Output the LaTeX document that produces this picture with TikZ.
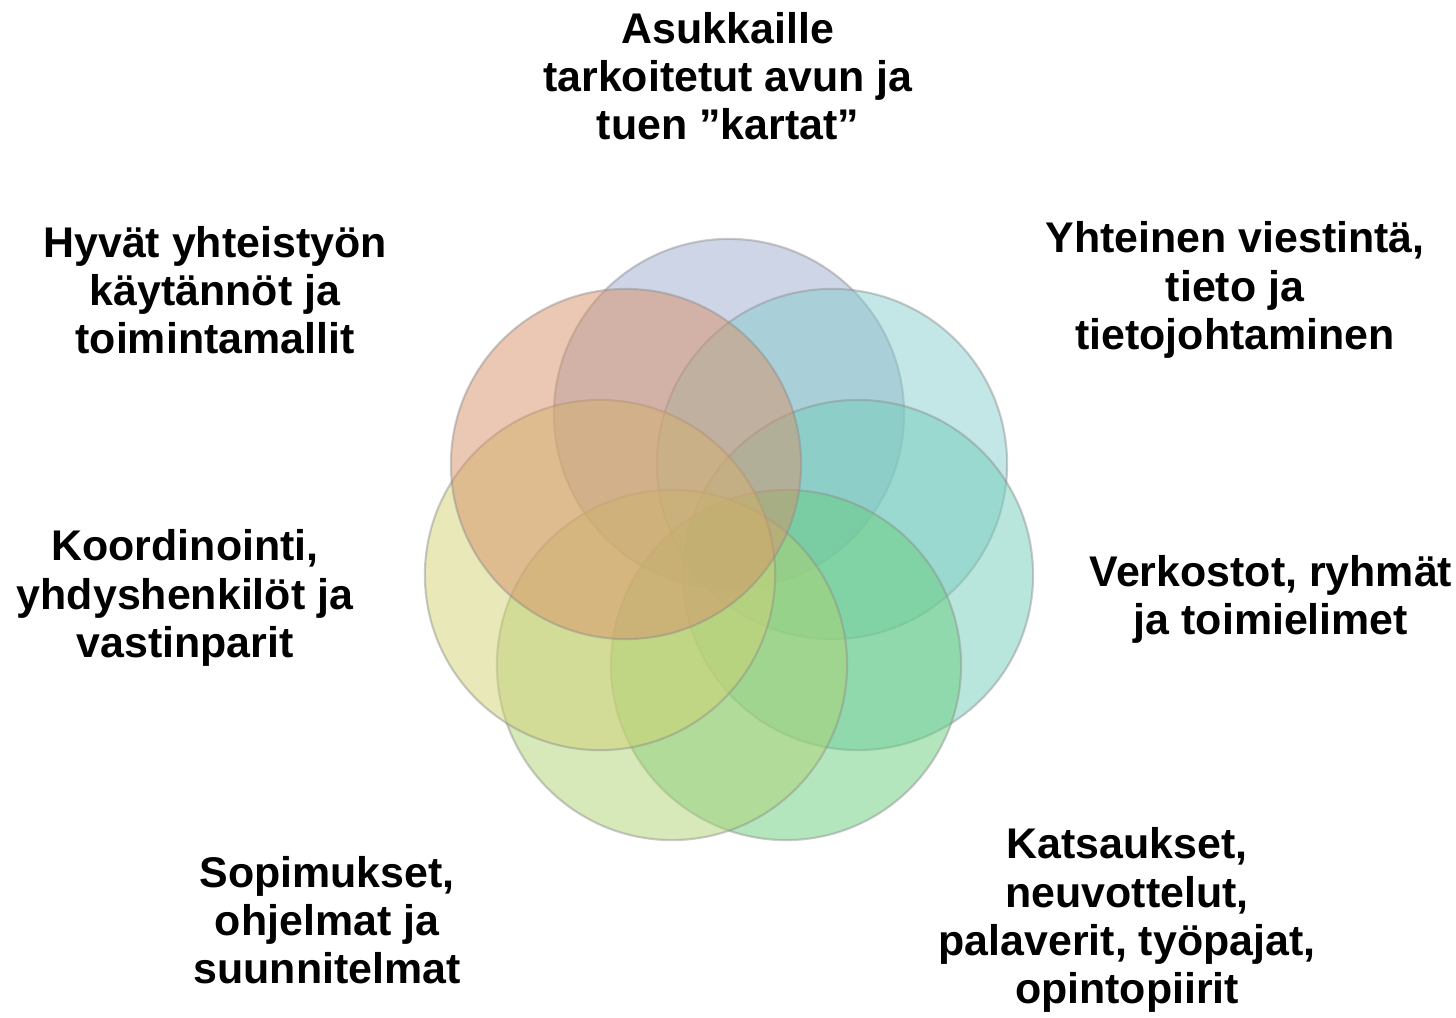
\documentclass[tikz,border=0pt]{standalone}
\usepackage{fontspec}
\setmainfont{Liberation Sans}
\definecolor{discblue}{RGB}{155,171,205}
\definecolor{discteal}{RGB}{135,205,205}
\definecolor{discaqua}{RGB}{115,205,185}
\definecolor{discgreen}{RGB}{105,205,125}
\definecolor{disclime}{RGB}{175,209,115}
\definecolor{discyellow}{RGB}{209,209,115}
\definecolor{discorange}{RGB}{215,145,105}
\tikzset{
	ringdisc/.style={circle, minimum size=3.5cm, inner sep=0pt, fill opacity=0.5,
		draw=black!45, draw opacity=0.45, line width=0.6pt},
	ringlabel/.style={align=center, inner sep=0pt,
		font=\bfseries\fontsize{12.2}{13.7}\selectfont}
}
\begin{document}
\begin{tikzpicture}[x=0.01cm, y=-0.01cm]
			\useasboundingbox (0,0) rectangle (1456,1017);
			% seven overlapping discs round the hub
			\node[ringdisc, fill=discblue] (d1) at (729,414) {};
			\node[ringdisc, fill=discteal] (d2) at (832,464) {};
			\node[ringdisc, fill=discaqua] (d3) at (858,575) {};
			\node[ringdisc, fill=discgreen] (d4) at (786,665) {};
			\node[ringdisc, fill=disclime] (d5) at (672,665) {};
			\node[ringdisc, fill=discyellow] (d6) at (600,575) {};
			\node[ringdisc, fill=discorange] (d7) at (626,464) {};
			% labels
			\node[ringlabel] (kartat) at (728,76) {Asukkaille\\tarkoitetut avun ja\\tuen ”kartat”};
			\node[ringlabel] (viestinta) at (1235,290) {Yhteinen viestintä,\\tieto ja\\tietojohtaminen};
			\node[ringlabel] (verkostot) at (1271,599) {Verkostot, ryhmät\\ja toimielimet};
			\node[ringlabel] (katsaukset) at (1127,920) {Katsaukset,\\neuvottelut,\\palaverit, työpajat,\\opintopiirit};
			\node[ringlabel] (sopimukset) at (327,920) {Sopimukset,\\ohjelmat ja\\suunnitelmat};
			\node[ringlabel] (koordinointi) at (185,598) {Koordinointi,\\yhdyshenkilöt ja\\vastinparit};
			\node[ringlabel] (kaytannot) at (215,290) {Hyvät yhteistyön\\käytännöt ja\\toimintamallit};
		\end{tikzpicture}
\end{document}
